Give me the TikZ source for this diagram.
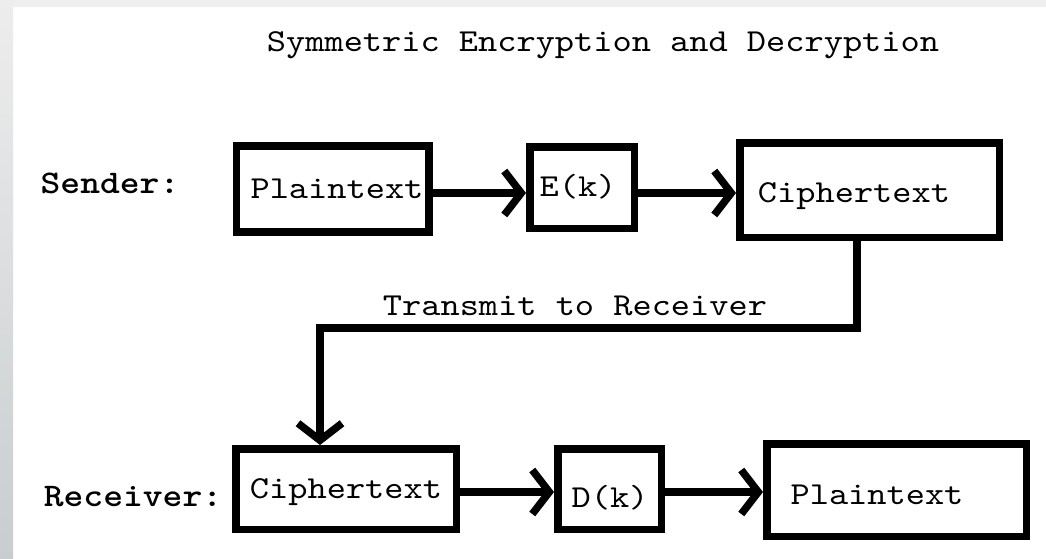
\documentclass[tikz,border=0pt]{standalone}
\usepackage{fontspec}
% thin typewriter face, widened to a 0.6em character cell
\newfontfamily\courfont{lmmono10-regular.otf}[FakeStretch=1.143, BoldFont=lmmonolt10-bold.otf]
\usetikzlibrary{arrows.meta}

\definecolor{edgetop}{HTML}{EDEDED}
\definecolor{edgebot}{HTML}{C9CDCF}
\definecolor{topband}{HTML}{EFEFEF}

\tikzset{
  blockbox/.style={draw=black, line width=7.5pt, fill=white, inner sep=0pt},
  boxtext/.style={inner sep=0pt, anchor=base, font=\courfont\fontsize{32}{32}\selectfont},
  sidelabel/.style={inner sep=0pt, anchor=base, font=\courfont\bfseries\fontsize{33}{33}\selectfont},
  flow/.style={line width=7.5pt, -{Straight Barb[length=17pt,width=44pt]}},
}

\begin{document}
\begin{tikzpicture}[x=1pt, y=-1pt]
  % page area and light slide border
  \fill[white] (0,0) rectangle (1046,559);
  \useasboundingbox (0,0) rectangle (1046,559);
  \fill[topband] (0,0) rectangle (1046,7);
  \shade[top color=edgetop, bottom color=edgebot] (0,0) rectangle (13,559);

  % title
  \node[boxtext] (title) at (603,52) {Symmetric Encryption and Decryption};

  % sender row
  \node[sidelabel] (sender) at (110,193) {Sender:};
  \node[blockbox, minimum width=192.5pt, minimum height=86pt] (plainA) at (332.5,189) {};
  \node[blockbox, minimum width=104.5pt, minimum height=81.5pt] (enc) at (582,187.5) {};
  \node[blockbox, minimum width=259.5pt, minimum height=94.5pt] (cipherA) at (869.5,190) {};
  \node[boxtext] (plainAtext) at (337,198) {Plaintext};
  \node[boxtext] (enctext) at (578,196) {E(k)};
  \node[boxtext] (cipherAtext) at (854,202) {Ciphertext};

  % receiver row
  \node[sidelabel] (receiver) at (133,506) {Receiver:};
  \node[blockbox, minimum width=220.5pt, minimum height=80.5pt] (cipherB) at (346,489) {};
  \node[blockbox, minimum width=103.5pt, minimum height=80.5pt] (dec) at (609.5,489) {};
  \node[blockbox, minimum width=259.5pt, minimum height=92.5pt] (plainB) at (896.5,490) {};
  \node[boxtext] (cipherBtext) at (346,498) {Ciphertext};
  \node[boxtext] (dectext) at (610,507) {D(k)};
  \node[boxtext] (plainBtext) at (877,504) {Plaintext};

  % transmission path between the rows
  \coordinate (bendR) at (857,328);
  \coordinate (bendL) at (320,328);
  \node[boxtext] (transmit) at (575,315) {Transmit to Receiver};

  % connectors
  \draw[flow] (plainA.east |- 0,193) -- (enc.west |- 0,193);
  \draw[flow] (enc.east |- 0,193) -- (cipherA.west |- 0,193);
  \draw[flow] (cipherA.south -| bendR) -- (bendR) -- (bendL) -- (bendL |- cipherB.north);
  \draw[flow] (cipherB.east |- 0,492) -- (dec.west |- 0,492);
  \draw[flow] (dec.east |- 0,492) -- (plainB.west |- 0,492);
\end{tikzpicture}
\end{document}
